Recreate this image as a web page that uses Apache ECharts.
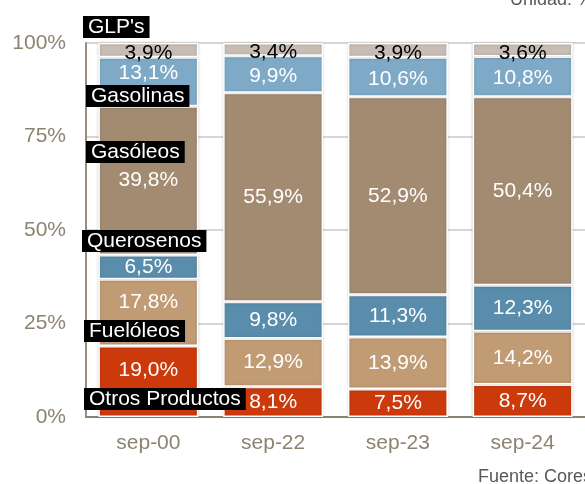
<!DOCTYPE html>
<html>
<head>
<meta charset="utf-8">
<script src="https://cdn.jsdelivr.net/npm/echarts@6/dist/echarts.min.js"></script>
<style>
html, body { margin: 0; padding: 0; background: #fff; }
#chart { width: 585px; height: 484px; }
</style>
</head>
<body>
<div id="chart"></div>
<script>
// categorias y cuotas (%)
const categories = ['sep-00', 'sep-22', 'sep-23', 'sep-24'];
const otros = [19.0, 8.1, 7.5, 8.7];
const fuel = [17.8, 12.9, 13.9, 14.2];
const querosenos = [6.5, 9.8, 11.3, 12.3];
const gasoleos = [39.8, 55.9, 52.9, 50.4];
const gasolinas = [13.1, 9.9, 10.6, 10.8];
const glp = [3.9, 3.4, 3.9, 3.6];
const yTicks = [0, 25, 50, 75, 100];

const font = 'Liberation Sans, Arial, sans-serif';

// desplazamiento vertical de etiquetas (px) por categoria
function serie(name, data, color, txtColor, shift) {
	return {
		name: name,
		type: 'bar',
		stack: 'total',
		data: data.map(function (v, i) {
			var dy = shift ? shift[i] : 0;
			return dy ? { value: v, label: { offset: [0, dy] } } : v;
		}),
		barWidth: 100,
		itemStyle: {
			color: color,
			borderColor: '#fff',
			borderWidth: 1.5,
			shadowColor: 'rgba(0,0,0,0.18)',
			shadowBlur: 3
		},
		label: {
			show: true,
			position: 'inside',
			color: txtColor || '#fff',
			fontFamily: font,
			fontSize: 21,
			formatter: function (p) {
				return p.value.toFixed(1).replace('.', ',') + '%';
			}
		}
	};
}

// etiquetas de serie (cajas negras)
function caja(text, x, y) {
	return {
		type: 'text',
		left: x,
		top: y,
		z: 100,
		style: {
			text: text,
			fill: '#fff',
			font: '21px ' + font,
			backgroundColor: '#000',
			padding: [1, 5, 0, 5]
		}
	};
}

var myChart = echarts.init(document.getElementById('chart'));
myChart.setOption({
	animation: false,
	grid: { left: 86, top: 43, width: 512, bottom: 67 },
	xAxis: {
		type: 'category',
		data: categories,
		axisLine: { lineStyle: { color: '#8c8370', width: 2 } },
		axisTick: { show: false },
		axisLabel: { color: '#8c8370', fontFamily: font, fontSize: 21, margin: 16 }
	},
	yAxis: {
		type: 'value',
		min: 0,
		max: 100,
		interval: 25,
		axisLine: { show: true, lineStyle: { color: '#9b9077', width: 2 } },
		axisTick: { show: false },
		splitLine: { lineStyle: { color: '#c8c8c8', width: 1.5 } },
		axisLabel: {
			color: '#8c8370',
			fontFamily: font,
			fontSize: 21,
			margin: 20,
			formatter: function (v) { return yTicks.indexOf(v) >= 0 ? v + '%' : ''; }
		}
	},
	series: [
		serie('Otros Productos', otros, '#cc3a0c', null, [-11, 0, 0, 0]),
		serie('Fuelóleos', fuel, '#c09b74', null, [-10, 0, 0, 0]),
		serie('Querosenos', querosenos, '#5a8dab'),
		serie("Gasóleos", gasoleos, '#a38b72'),
		serie('Gasolinas', gasolinas, '#7eaac7', null, [-9, 2, 2, 2]),
		serie("GLP's", glp, '#c7bdb4', '#000', [3, 3, 3, 3])
	],
	graphic: [
		caja("GLP's", 83, 16),
		caja('Gasolinas', 86, 85),
		caja('Gasóleos', 86, 141),
		caja('Querosenos', 82, 230),
		caja('Fuelóleos', 84, 320),
		caja('Otros Productos', 84, 388),
		{ type: 'text', left: 510, top: -9, style: { text: 'Unidad: %', fill: '#595959', font: '18px ' + font } },
		{ type: 'text', left: 478, top: 468, style: { text: 'Fuente: Cores', fill: '#595959', font: '18px ' + font } }
	]
});
</script>
</body>
</html>
